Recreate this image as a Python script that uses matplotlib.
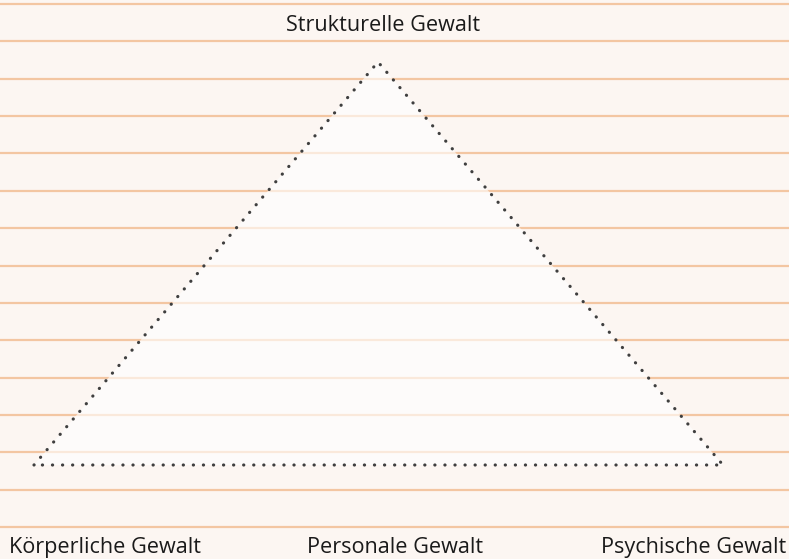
import matplotlib
matplotlib.use('Agg')
import matplotlib.pyplot as plt
from matplotlib.patches import Polygon

# Eckpunkte des Dreiecks (Pixelraster der Vorlage, y nach unten)
apex_x, apex_y = 378, 62
base_y = 465
left_x, right_x = 34, 723

# Beschriftungen
top_label = 'Strukturelle Gewalt'
bottom_labels = ['Körperliche Gewalt', 'Personale Gewalt', 'Psychische Gewalt']

# Hintergrund-Linien (Linienpapier)
rule_ys = [4, 41.4, 78.7, 116.1, 153.4, 190.8, 228.1, 265.5, 302.8, 340.2,
           377.5, 414.9, 452.2, 489.6, 526.9]

BG = '#fcf6f2'
RULE = '#f3c6a2'
DOT = '#3f3f3f'

fig = plt.figure(figsize=(7.89, 5.59), dpi=100, facecolor=BG)
ax = fig.add_axes([0, 0, 1, 1])
ax.set_facecolor(BG)
ax.set_xlim(0, 789)
ax.set_ylim(559, 0)
ax.axis('off')

for y in rule_ys:
    ax.axhline(y, color=RULE, linewidth=1.6, zorder=1)

tri = [(left_x, base_y), (apex_x, apex_y), (right_x, base_y)]
ax.add_patch(Polygon(tri, closed=True, facecolor='white', alpha=0.62,
                     edgecolor='none', zorder=2))
xs = [p[0] for p in tri] + [tri[0][0]]
ys = [p[1] for p in tri] + [tri[0][1]]
ax.plot(xs, ys, color=DOT, linewidth=2.3, linestyle=(0, (0.05, 3.1)),
        dash_capstyle='round', zorder=3)

font = ['Open Sans', 'DejaVu Sans']
kw = dict(va='baseline', fontsize=15.6, family=font, color='#1a1a1a', zorder=4)
ax.text(383, 31, top_label, ha='center', **kw)
ax.text(9, 553, bottom_labels[0], ha='left', **kw)
ax.text(395, 553, bottom_labels[1], ha='center', **kw)
ax.text(786, 553, bottom_labels[2], ha='right', **kw)

fig.savefig('out.png', dpi=100, facecolor=BG)
